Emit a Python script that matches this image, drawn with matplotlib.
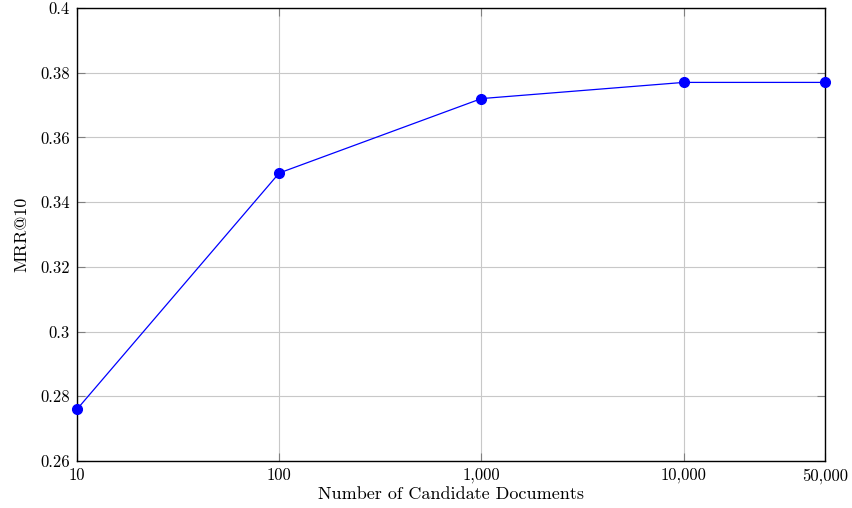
import matplotlib
matplotlib.use('Agg')
import matplotlib.pyplot as plt
from matplotlib.ticker import FixedLocator, FuncFormatter, NullLocator

plt.rcParams['font.family'] = ['cmr10', 'DejaVu Serif']
plt.rcParams['axes.formatter.use_mathtext'] = True

candidates = [10, 100, 1000, 10000, 50000]
mrr = [0.276, 0.349, 0.372, 0.377, 0.377]
xtick_labels = ['10', '100', '1,000', '10,000', '50,000']
yticks = [0.26, 0.28, 0.30, 0.32, 0.34, 0.36, 0.38, 0.40]

fig = plt.figure(figsize=(8.52, 5.08), dpi=100)
ax = fig.add_axes([0.0904, 0.0925, 0.8779, 0.8918])

ax.plot(candidates, mrr, color='blue', lw=0.9, marker='o', ms=7,
        clip_on=False, zorder=3)

ax.set_xscale('log')
ax.set_xlim(10, 50000)
ax.set_ylim(0.26, 0.40)
ax.xaxis.set_major_locator(FixedLocator(candidates))
ax.xaxis.set_minor_locator(NullLocator())
ax.set_xticklabels(xtick_labels)
ax.yaxis.set_major_locator(FixedLocator(yticks))
ax.yaxis.set_major_formatter(FuncFormatter(lambda v, p: '%g' % round(v, 2)))

ax.grid(True, color='#c8c8c8', lw=0.8)
ax.set_axisbelow(True)
ax.tick_params(direction='in', length=6, color='#808080', labelsize=12,
               top=True, right=True, pad=5)
for s in ax.spines.values():
    s.set_linewidth(1.0)
    s.set_color('black')

ax.set_xlabel('Number of Candidate Documents', fontsize=13, labelpad=2)
ax.set_ylabel('MRR@10', fontsize=13, labelpad=8)

fig.savefig('out.png', dpi=100)
